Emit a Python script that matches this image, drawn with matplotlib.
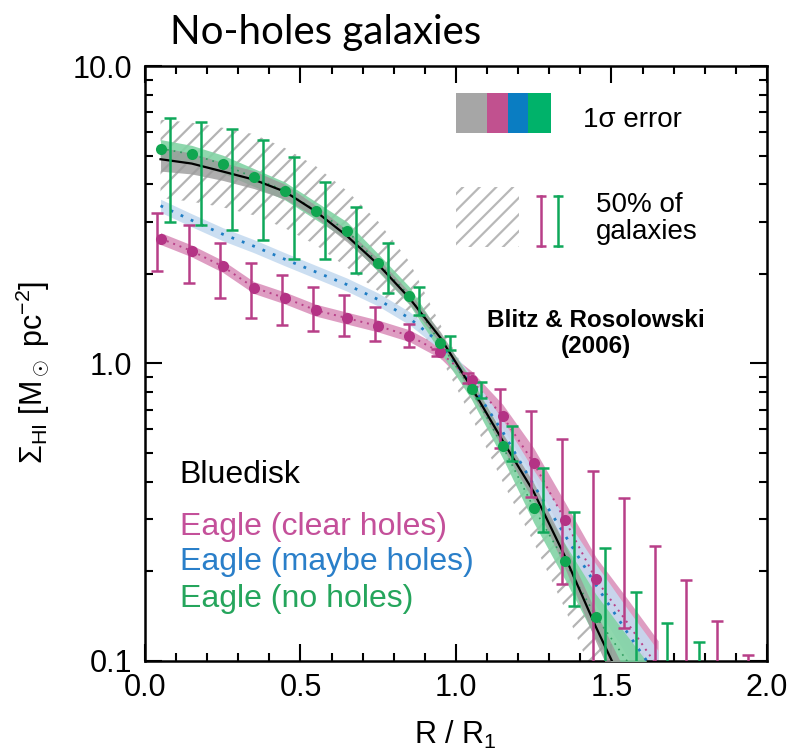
import numpy as np
import matplotlib
matplotlib.use('Agg')
import matplotlib.pyplot as plt
from matplotlib.patches import Rectangle
from matplotlib.ticker import FixedLocator, FixedFormatter, LogLocator, NullFormatter

plt.rcParams['font.family'] = ['Liberation Sans', 'DejaVu Sans']
plt.rcParams['mathtext.fontset'] = 'custom'
plt.rcParams['mathtext.rm'] = 'Liberation Sans'
plt.rcParams['mathtext.it'] = 'Liberation Sans:italic'
plt.rcParams['hatch.linewidth'] = 1.6

# radius grid (R / R1) for the model curves
x_curve = [0.05, 0.15, 0.25, 0.35, 0.45, 0.55, 0.65, 0.75, 0.85, 0.95,
           1.05, 1.15, 1.25, 1.35, 1.45, 1.55, 1.65]

# Bluedisk (black line + gray 1 sigma band), up to 1.55
bluedisk = [4.86, 4.70, 4.42, 4.15, 3.78, 3.24, 2.68, 2.15, 1.66, 1.22,
            0.83, 0.55, 0.37, 0.225, 0.13, 0.078]
bluedisk_err = [0.04, 0.035, 0.03, 0.03, 0.025, 0.02, 0.02, 0.02, 0.02, 0.02,
                0.02, 0.025, 0.03, 0.04, 0.05, 0.06]
# Bluedisk 50% of galaxies (hatched)
hatch_hi = [6.6, 6.45, 6.2, 5.9, 5.3, 4.6, 3.8, 3.0, 2.2, 1.35,
            0.86, 0.56, 0.37, 0.225, 0.13, 0.08]
hatch_lo = [3.6, 3.5, 3.35, 3.15, 2.85, 2.5, 2.1, 1.75, 1.4, 1.05,
            0.66, 0.40, 0.25, 0.15, 0.085, 0.05]

# Eagle (clear holes)
clear = [2.63, 2.39, 2.12, 1.80, 1.66, 1.51, 1.42, 1.336, 1.24, 1.09,
         0.88, 0.665, 0.463, 0.298, 0.188, 0.135, 0.095]
clear_err = [0.02] * 10 + [0.03, 0.04, 0.05, 0.06, 0.075, 0.08, 0.09]
# Eagle (maybe holes)
maybe = [3.39, 3.03, 2.72, 2.48, 2.24, 2.03, 1.84, 1.64, 1.42, 1.17,
         0.85, 0.59, 0.39, 0.265, 0.18, 0.125, 0.088]
maybe_err = [0.022] * 10 + [0.03, 0.04, 0.05, 0.06, 0.07, 0.08, 0.09]
# Eagle (no holes)
nohole = [5.28, 5.05, 4.68, 4.22, 3.80, 3.26, 2.79, 2.18, 1.69, 1.17,
          0.82, 0.527, 0.327, 0.216, 0.141, 0.100, 0.072]
nohole_err = [0.03] * 10 + [0.035, 0.04, 0.05, 0.06, 0.075, 0.085, 0.09]

# points shown as markers
x_pts = [0.05, 0.15, 0.25, 0.35, 0.45, 0.55, 0.65, 0.75, 0.85, 0.95,
         1.05, 1.15, 1.25, 1.35, 1.45]

# 50% ranges (error bars)
x_bar_clear = [0.04, 0.14, 0.24, 0.34, 0.44, 0.54, 0.64, 0.74, 0.85, 0.94,
               1.04, 1.14, 1.24, 1.34, 1.44, 1.54, 1.64, 1.74, 1.84, 1.94]
clear_top = [3.20, 2.92, 2.55, 2.17, 1.98, 1.81, 1.694, 1.553, 1.353, 1.12,
             0.93, 0.818, 0.691, 0.558, 0.436, 0.353, 0.244, 0.187, 0.136, 0.105]
clear_bot = [2.04, 1.86, 1.66, 1.425, 1.345, 1.285, 1.235, 1.189, 1.14, 1.058,
             0.863, 0.52, 0.357, 0.181, 0.06, 0.129, 0.06, 0.06, 0.06, 0.06]
x_bar_no = [0.08, 0.18, 0.28, 0.38, 0.48, 0.58, 0.68, 0.78, 0.88, 0.98,
            1.08, 1.18, 1.28, 1.38, 1.48, 1.58, 1.68, 1.78]
no_top = [6.67, 6.50, 6.14, 5.63, 4.96, 4.08, 3.37, 2.55, 1.81, 1.236,
          0.868, 0.618, 0.445, 0.317, 0.24, 0.171, 0.134, 0.116]
no_bot = [2.98, 2.92, 2.81, 2.61, 2.24, 2.24, 2.02, 1.73, 1.46, 1.108,
          0.766, 0.469, 0.272, 0.153, 0.06, 0.06, 0.06, 0.06]

c_mag = '#b83f88'
c_blue = '#1f7dc4'
c_green = '#0fa85a'

fig = plt.figure(figsize=(7.94, 7.5), dpi=100)
ax = fig.add_axes([0.1826, 0.1187, 0.7834, 0.7933])


def band(y, e):
    y = np.array(y)
    e = np.array(e)
    return y * 10 ** (-e), y * 10 ** e


nb = len(bluedisk)
ax.fill_between(x_curve[:nb], hatch_lo, hatch_hi, facecolor='none',
                edgecolor='#b4b4b4', hatch='//', linewidth=0, zorder=1)

lo, hi = band(clear, clear_err)
ax.fill_between(x_curve, lo, hi, color='#d98cb8', alpha=0.85, lw=0, zorder=2)
lo, hi = band(maybe, maybe_err)
ax.fill_between(x_curve, lo, hi, color='#c6dbf0', alpha=0.9, lw=0, zorder=2)
lo, hi = band(nohole, nohole_err)
ax.fill_between(x_curve, lo, hi, color='#82d3a4', alpha=0.9, lw=0, zorder=3)
lo, hi = band(bluedisk, bluedisk_err)
ax.fill_between(x_curve[:nb], lo, hi, color='#9a9a9a', alpha=0.8, lw=0, zorder=3)

ax.plot(x_curve, clear, color=c_mag, ls=(0, (1, 2.5)), lw=1.4, zorder=4)
ax.plot(x_curve, maybe, color=c_blue, ls=(0, (1, 3)), lw=2, zorder=4)
ax.plot(x_curve, nohole, color='#2e9c5e', ls=(0, (1, 3)), lw=1.2, zorder=4)
ax.plot(x_curve[:nb], bluedisk, color='black', lw=1.6, zorder=5)

for xs, top, bot, col in [(x_bar_clear, clear_top, clear_bot, c_mag),
                          (x_bar_no, no_top, no_bot, c_green)]:
    ax.vlines(xs, bot, top, color=col, lw=1.8, zorder=6)
    ax.plot(xs, top, ls='none', marker='_', ms=9, mew=1.8, color=col, zorder=6)
    ax.plot(xs, bot, ls='none', marker='_', ms=9, mew=1.8, color=col, zorder=6)

ax.plot(x_pts, clear[:len(x_pts)], 'o', ms=8, color='#b43385', mew=0, zorder=7)
ax.plot(x_pts, nohole[:len(x_pts)], 'o', ms=8, color='#10a650', mew=0, zorder=7)

ax.set_yscale('log')
ax.set_xlim(0, 2)
ax.set_ylim(0.1, 10)
ax.xaxis.set_major_locator(FixedLocator([0, 0.5, 1.0, 1.5, 2.0]))
ax.xaxis.set_major_formatter(FixedFormatter(['0.0', '0.5', '1.0', '1.5', '2.0']))
ax.xaxis.set_minor_locator(FixedLocator(np.arange(0, 2.01, 0.1)))
ax.yaxis.set_major_locator(FixedLocator([0.1, 1, 10]))
ax.yaxis.set_major_formatter(FixedFormatter(['0.1', '1.0', '10.0']))
ax.yaxis.set_minor_locator(LogLocator(subs=np.arange(2, 10)))
ax.yaxis.set_minor_formatter(NullFormatter())
ax.tick_params(which='both', direction='in', top=True, right=True, width=1.5)
ax.tick_params(which='major', length=12, labelsize=22, pad=9)
ax.tick_params(which='minor', length=6)
for s in ax.spines.values():
    s.set_linewidth(1.8)

# legend: 1 sigma error blocks
for x0, w, col in [(0.5, 0.05, '#a6a6a6'), (0.55, 0.034, '#c1518f'),
                   (0.584, 0.032, '#0a7dc2'), (0.616, 0.037, '#00b26a')]:
    ax.add_patch(Rectangle((x0, 0.887), w, 0.068, transform=ax.transAxes,
                           color=col, lw=0, zorder=8))
ax.text(0.704, 0.909, '1σ error', transform=ax.transAxes, fontsize=20,
        ha='left', va='center')

ax.add_patch(Rectangle((0.5, 0.696), 0.101, 0.101, transform=ax.transAxes,
                       facecolor='none', edgecolor='#b8b8b8', hatch='//',
                       lw=0, zorder=8))
for xb, col in [(0.637, c_mag), (0.664, c_green)]:
    ax.plot([xb, xb], [0.697, 0.782], color=col, lw=1.8, transform=ax.transAxes)
    ax.plot([xb, xb], [0.697, 0.782], ls='none', marker='_', ms=7, mew=1.8,
            color=col, transform=ax.transAxes)
ax.text(0.725, 0.743, '50% of\ngalaxies', transform=ax.transAxes, fontsize=20,
        ha='left', va='center', linespacing=1.05)

ax.text(0.725, 0.55, 'Blitz & Rosolowski\n(2006)', transform=ax.transAxes,
        fontsize=17.5, fontweight='bold', ha='center', va='center',
        linespacing=1.15)

ax.text(0.056, 0.299, 'Bluedisk', transform=ax.transAxes, fontsize=23,
        color='black', va='baseline')
ax.text(0.056, 0.212, 'Eagle (clear holes)', transform=ax.transAxes,
        fontsize=23, color='#c4509a', va='baseline')
ax.text(0.056, 0.153, 'Eagle (maybe holes)', transform=ax.transAxes,
        fontsize=23, color='#2a7fc9', va='baseline')
ax.text(0.056, 0.091, 'Eagle (no holes)', transform=ax.transAxes,
        fontsize=23, color='#25a55c', va='baseline')

fig.text(0.573, 0.02, 'R / R$_1$', fontsize=22, ha='center', va='center')
fig.text(0.042, 0.504, r'$\Sigma_{\rm HI}$ [M$_\odot$ pc$^{-2}$]',
         fontsize=22, rotation=90, ha='center', va='center')
fig.text(0.41, 0.957, 'No-holes galaxies', fontsize=29, family='Lato',
         ha='center', va='center')

fig.savefig('out.png', dpi=100)
